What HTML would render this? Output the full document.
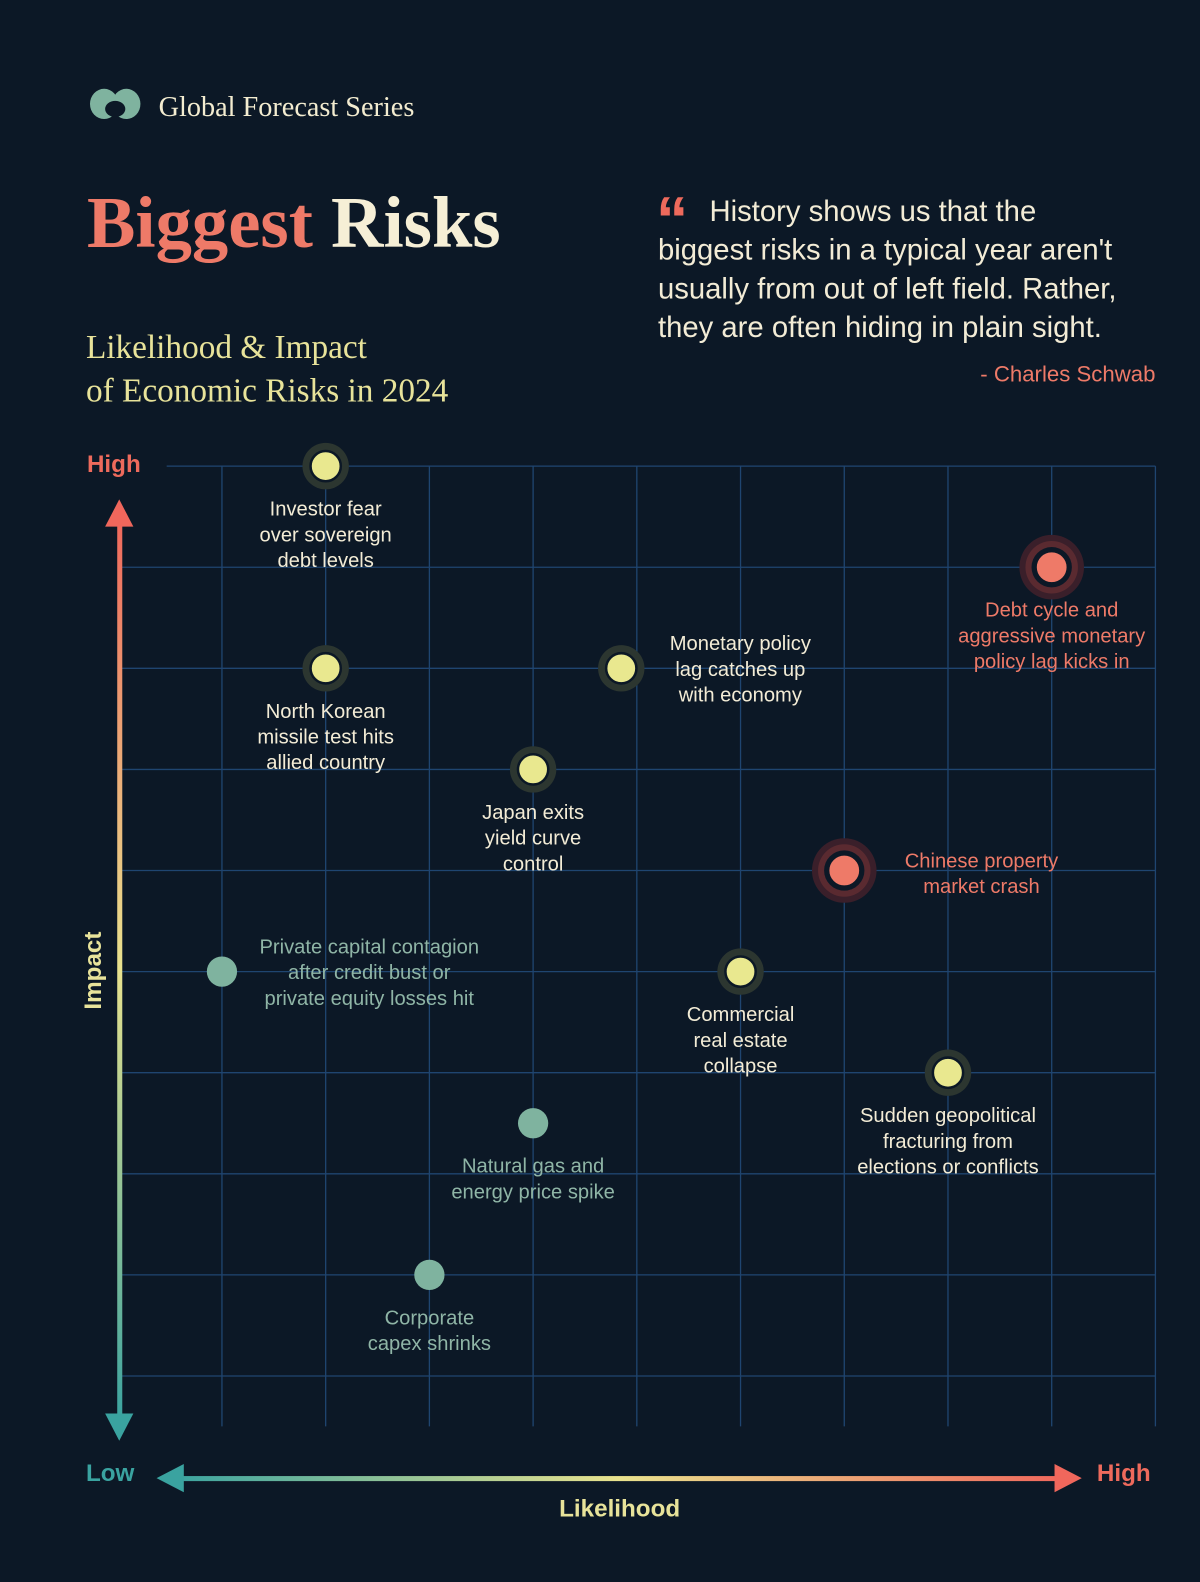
<!DOCTYPE html>
<html><head><meta charset="utf-8"><style>
body{margin:0;background:#0c1826;}
svg{display:block}
.sans{font-family:"Liberation Sans",sans-serif}
.serif{font-family:"Liberation Serif",serif}
</style></head><body>
<svg id="chart" width="1200" height="1582" viewBox="0 0 1189 1568" xmlns="http://www.w3.org/2000/svg">
<defs>
<linearGradient id="vg" x1="0" y1="0" x2="0" y2="1"><stop offset="0" stop-color="#f0675c"/><stop offset="0.5" stop-color="#e9e28e"/><stop offset="1" stop-color="#3aa3a0"/></linearGradient>
<linearGradient id="hg" x1="0" y1="0" x2="1" y2="0"><stop offset="0" stop-color="#3aa3a0"/><stop offset="0.5" stop-color="#e9e28e"/><stop offset="1" stop-color="#f0675c"/></linearGradient>
</defs>
<rect x="-10" y="-10" width="1220" height="1600" fill="#0c1826"/>
<g>
<ellipse cx="103" cy="103" rx="14" ry="15" fill="#7fb39f"/><ellipse cx="125" cy="103" rx="14" ry="15" fill="#7fb39f"/>
<ellipse cx="114" cy="108" rx="10" ry="8" fill="#0c1826"/>
</g>
<text class="serif" x="157" y="115" font-size="28" fill="#f3ecd0">Global Forecast Series</text>
<text class="serif" x="86" y="245" font-size="72" font-weight="bold"><tspan fill="#ee7a68">Biggest</tspan><tspan fill="#f6efd6"> Risks</tspan></text>
<text class="serif" font-size="33" fill="#e8e39a"><tspan x="85" y="355">Likelihood &amp; Impact</tspan><tspan x="85" y="398">of Economic Risks in 2024</tspan></text>
<text class="sans" x="650" y="240" font-size="64" font-weight="bold" fill="#ee6a5c">“</text>
<text class="sans" font-size="29" fill="#f3ecd6"><tspan x="703" y="219">History shows us that the</tspan><tspan x="652" y="257">biggest risks in a typical year aren't</tspan><tspan x="652" y="296">usually from out of left field. Rather,</tspan><tspan x="652" y="334">they are often hiding in plain sight.</tspan></text>
<text class="sans" x="1145" y="378" font-size="22" fill="#ee7a68" text-anchor="end">- Charles Schwab</text>
<g id="grid"></g>
<g>
<rect x="116" y="510" width="5" height="900" fill="url(#vg)"/>
<polygon points="118,495 104,522 132,522" fill="#f0675c"/>
<polygon points="118,1428 104,1401 132,1401" fill="#3aa3a0"/>
</g>
<g>
<rect x="170" y="1463" width="885" height="5" fill="url(#hg)"/>
<polygon points="155,1465 182,1451 182,1479" fill="#3aa3a0"/>
<polygon points="1072,1465 1045,1451 1045,1479" fill="#f0675c"/>
</g>
<text class="sans" x="86" y="468" font-size="24" font-weight="bold" fill="#ee6a5c">High</text>
<text class="sans" x="0" y="0" font-size="24" font-weight="bold" fill="#e8e39a" text-anchor="middle" transform="translate(100,962) rotate(-90)">Impact</text>
<text class="sans" x="85" y="1468" font-size="24" font-weight="bold" fill="#3aa3a0">Low</text>
<text class="sans" x="1087" y="1468" font-size="24" font-weight="bold" fill="#ee6a5c">High</text>
<text class="sans" x="614" y="1503" font-size="24" font-weight="bold" fill="#e8e39a" text-anchor="middle">Likelihood</text>
<g id="points"></g>
</svg>
<script>
const riskNames = ["investor-fear","debt-cycle","north-korea","monetary-policy","japan-ycc","chinese-property","private-capital","commercial-real-estate","geopolitical-fracturing","natural-gas","corporate-capex"];
const labels = [
 ["Investor fear","over sovereign","debt levels"],
 ["Debt cycle and","aggressive monetary","policy lag kicks in"],
 ["North Korean","missile test hits","allied country"],
 ["Monetary policy","lag catches up","with economy"],
 ["Japan exits","yield curve","control"],
 ["Chinese property","market crash"],
 ["Private capital contagion","after credit bust or","private equity losses hit"],
 ["Commercial","real estate","collapse"],
 ["Sudden geopolitical","fracturing from","elections or conflicts"],
 ["Natural gas and","energy price spike"],
 ["Corporate","capex shrinks"]
];
const likelihood = [2, 9, 2, 4.85, 4, 7, 1, 6, 8, 4, 3];
const impact = [10, 9, 8, 8, 7, 6, 5, 5, 4, 3.5, 2];
const tier = ["mid","high","mid","mid","mid","high","low","mid","mid","low","low"];
const labelDx = [0, 0, 0, 118, 0, 136, 146, 0, 0, 0, 0];

const X = v => 117 + 102.8 * v;
const Y = v => 462 + (10 - v) * 100.2;
const NS = "http://www.w3.org/2000/svg";
const grid = document.getElementById('grid');
for (let i = 1; i <= 10; i++) {
  const l = document.createElementNS(NS,'line');
  l.setAttribute('x1', X(i)); l.setAttribute('x2', X(i));
  l.setAttribute('y1', Y(10)); l.setAttribute('y2', Y(1) + 50);
  l.setAttribute('stroke','#1f4570'); l.setAttribute('stroke-width','1.3');
  
  
  grid.appendChild(l);
}
for (let j = 1; j <= 10; j++) {
  const l = document.createElementNS(NS,'line');
  l.setAttribute('x1', j === 10 ? 165 : 120); l.setAttribute('x2', X(10));
  l.setAttribute('y1', Y(j)); l.setAttribute('y2', Y(j));
  l.setAttribute('stroke','#1f4570'); l.setAttribute('stroke-width','1.3');
  
  
  grid.appendChild(l);
}
const pts = document.getElementById('points');
const colors = {high:"#ee7a68", mid:"#e9e88f", low:"#7fb39f"};
const textColors = {high:"#ee7a68", mid:"#f3ecd6", low:"#8fb5a6"};
likelihood.forEach((lv, i) => {
  const cx = X(lv), cy = Y(impact[i]);
  const g = document.createElementNS(NS,'g');
  
  
  const t = tier[i];
  if (t === 'high') {
    [[32,'#3a1f2a'],[26,'#5a2a30'],[20,'#0c1826']].forEach(([r,c]) => {
      const h = document.createElementNS(NS,'circle');
      h.setAttribute('cx',cx); h.setAttribute('cy',cy); h.setAttribute('r',r); h.setAttribute('fill',c);
      g.appendChild(h);
    });
  } else if (t === 'mid') {
    const h = document.createElementNS(NS,'circle');
    h.setAttribute('cx',cx); h.setAttribute('cy',cy); h.setAttribute('r',23); h.setAttribute('fill','#2c3630');
    g.appendChild(h);
  }
  const c = document.createElementNS(NS,'circle');
  c.setAttribute('cx',cx); c.setAttribute('cy',cy); c.setAttribute('r', t === 'high' ? 16 : 15);
  c.setAttribute('fill', colors[t]);
  if (t !== 'low') { c.setAttribute('stroke','#0c1826'); c.setAttribute('stroke-width','2.5'); }
  g.appendChild(c);
  const tx = document.createElementNS(NS,'text');
  tx.setAttribute('class','sans'); tx.setAttribute('font-size','20');
  tx.setAttribute('fill', textColors[t]); tx.setAttribute('text-anchor','middle');
  
  
  let lx = cx, ly = cy + 49;
  if (labelDx[i] !== 0) {
    lx = cx + labelDx[i];
    ly = cy - (labels[i].length === 2 ? 3 : 18);
  }
  labels[i].forEach((s, k) => {
    const sp = document.createElementNS(NS,'tspan');
    sp.setAttribute('x', lx); sp.setAttribute('y', ly + k * 25.5);
    sp.textContent = s;
    tx.appendChild(sp);
  });
  g.appendChild(tx);
  pts.appendChild(g);
});
</script>
</body></html>
